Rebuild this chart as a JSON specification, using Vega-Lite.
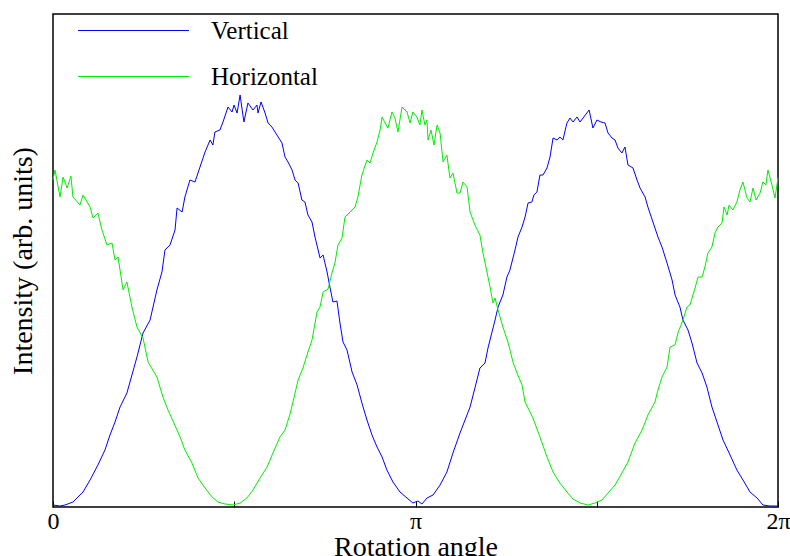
{
  "$schema": "https://vega.github.io/schema/vega-lite/v6.json",
  "width": 725,
  "height": 493,
  "autosize": "none",
  "padding": {"left": 53, "top": 14, "right": 12, "bottom": 49},
  "background": "white",
  "config": {
    "view": {"stroke": "black", "strokeWidth": 1.5},
    "font": "Liberation Serif"
  },
  "data": {
    "values": [
      {"series": "Vertical", "angle": 0, "intensity": 2},
      {"series": "Vertical", "angle": 3.5, "intensity": 1},
      {"series": "Vertical", "angle": 6.0, "intensity": 2},
      {"series": "Vertical", "angle": 9.9, "intensity": 5},
      {"series": "Vertical", "angle": 14.9, "intensity": 15},
      {"series": "Vertical", "angle": 18.4, "intensity": 27},
      {"series": "Vertical", "angle": 22.3, "intensity": 42},
      {"series": "Vertical", "angle": 25.8, "intensity": 57},
      {"series": "Vertical", "angle": 28.3, "intensity": 72},
      {"series": "Vertical", "angle": 30.8, "intensity": 85},
      {"series": "Vertical", "angle": 33.3, "intensity": 100},
      {"series": "Vertical", "angle": 36.7, "intensity": 114},
      {"series": "Vertical", "angle": 39.2, "intensity": 132},
      {"series": "Vertical", "angle": 41.7, "intensity": 150},
      {"series": "Vertical", "angle": 44.7, "intensity": 174},
      {"series": "Vertical", "angle": 48.2, "intensity": 187},
      {"series": "Vertical", "angle": 51.6, "intensity": 217},
      {"series": "Vertical", "angle": 54.1, "intensity": 235},
      {"series": "Vertical", "angle": 55.6, "intensity": 257},
      {"series": "Vertical", "angle": 58.1, "intensity": 262},
      {"series": "Vertical", "angle": 60.6, "intensity": 277},
      {"series": "Vertical", "angle": 61.6, "intensity": 299},
      {"series": "Vertical", "angle": 64.1, "intensity": 295},
      {"series": "Vertical", "angle": 65.5, "intensity": 310},
      {"series": "Vertical", "angle": 68.0, "intensity": 327},
      {"series": "Vertical", "angle": 70.5, "intensity": 325},
      {"series": "Vertical", "angle": 73.0, "intensity": 340},
      {"series": "Vertical", "angle": 75.5, "intensity": 355},
      {"series": "Vertical", "angle": 78.0, "intensity": 367},
      {"series": "Vertical", "angle": 79.4, "intensity": 362},
      {"series": "Vertical", "angle": 80.4, "intensity": 375},
      {"series": "Vertical", "angle": 82.9, "intensity": 377},
      {"series": "Vertical", "angle": 84.4, "intensity": 385},
      {"series": "Vertical", "angle": 86.9, "intensity": 400},
      {"series": "Vertical", "angle": 88.9, "intensity": 395},
      {"series": "Vertical", "angle": 89.9, "intensity": 402},
      {"series": "Vertical", "angle": 91.4, "intensity": 394},
      {"series": "Vertical", "angle": 92.9, "intensity": 412},
      {"series": "Vertical", "angle": 94.8, "intensity": 385},
      {"series": "Vertical", "angle": 96.8, "intensity": 404},
      {"series": "Vertical", "angle": 99.3, "intensity": 397},
      {"series": "Vertical", "angle": 101.3, "intensity": 402},
      {"series": "Vertical", "angle": 101.8, "intensity": 394},
      {"series": "Vertical", "angle": 103.3, "intensity": 405},
      {"series": "Vertical", "angle": 105.3, "intensity": 394},
      {"series": "Vertical", "angle": 106.8, "intensity": 384},
      {"series": "Vertical", "angle": 108.7, "intensity": 380},
      {"series": "Vertical", "angle": 111.2, "intensity": 372},
      {"series": "Vertical", "angle": 113.7, "intensity": 364},
      {"series": "Vertical", "angle": 115.2, "intensity": 350},
      {"series": "Vertical", "angle": 116.7, "intensity": 345},
      {"series": "Vertical", "angle": 118.7, "intensity": 337},
      {"series": "Vertical", "angle": 120.2, "intensity": 327},
      {"series": "Vertical", "angle": 121.7, "intensity": 324},
      {"series": "Vertical", "angle": 123.6, "intensity": 307},
      {"series": "Vertical", "angle": 125.1, "intensity": 305},
      {"series": "Vertical", "angle": 126.6, "intensity": 292},
      {"series": "Vertical", "angle": 128.6, "intensity": 285},
      {"series": "Vertical", "angle": 130.1, "intensity": 270},
      {"series": "Vertical", "angle": 132.6, "intensity": 249},
      {"series": "Vertical", "angle": 134.1, "intensity": 252},
      {"series": "Vertical", "angle": 136.1, "intensity": 235},
      {"series": "Vertical", "angle": 137.5, "intensity": 220},
      {"series": "Vertical", "angle": 139.0, "intensity": 205},
      {"series": "Vertical", "angle": 141.0, "intensity": 206},
      {"series": "Vertical", "angle": 142.5, "intensity": 184},
      {"series": "Vertical", "angle": 144.0, "intensity": 165},
      {"series": "Vertical", "angle": 146.0, "intensity": 157},
      {"series": "Vertical", "angle": 148.5, "intensity": 135},
      {"series": "Vertical", "angle": 151.0, "intensity": 122},
      {"series": "Vertical", "angle": 153.4, "intensity": 104},
      {"series": "Vertical", "angle": 155.9, "intensity": 87},
      {"series": "Vertical", "angle": 158.4, "intensity": 72},
      {"series": "Vertical", "angle": 160.9, "intensity": 60},
      {"series": "Vertical", "angle": 163.4, "intensity": 50},
      {"series": "Vertical", "angle": 165.8, "intensity": 37},
      {"series": "Vertical", "angle": 168.8, "intensity": 25},
      {"series": "Vertical", "angle": 172.3, "intensity": 15},
      {"series": "Vertical", "angle": 175.8, "intensity": 9},
      {"series": "Vertical", "angle": 178.7, "intensity": 4},
      {"series": "Vertical", "angle": 181.2, "intensity": 6},
      {"series": "Vertical", "angle": 183.2, "intensity": 3},
      {"series": "Vertical", "angle": 185.7, "intensity": 9},
      {"series": "Vertical", "angle": 188.7, "intensity": 12},
      {"series": "Vertical", "angle": 192.2, "intensity": 22},
      {"series": "Vertical", "angle": 195.6, "intensity": 35},
      {"series": "Vertical", "angle": 198.6, "intensity": 54},
      {"series": "Vertical", "angle": 202.1, "intensity": 74},
      {"series": "Vertical", "angle": 204.6, "intensity": 87},
      {"series": "Vertical", "angle": 207.1, "intensity": 100},
      {"series": "Vertical", "angle": 209.5, "intensity": 119},
      {"series": "Vertical", "angle": 212.0, "intensity": 139},
      {"series": "Vertical", "angle": 214.5, "intensity": 144},
      {"series": "Vertical", "angle": 216.0, "intensity": 159},
      {"series": "Vertical", "angle": 218.0, "intensity": 175},
      {"series": "Vertical", "angle": 219.5, "intensity": 187},
      {"series": "Vertical", "angle": 221.0, "intensity": 200},
      {"series": "Vertical", "angle": 223.4, "intensity": 212},
      {"series": "Vertical", "angle": 225.4, "intensity": 230},
      {"series": "Vertical", "angle": 226.9, "intensity": 237},
      {"series": "Vertical", "angle": 229.4, "intensity": 257},
      {"series": "Vertical", "angle": 230.9, "intensity": 270},
      {"series": "Vertical", "angle": 232.9, "intensity": 280},
      {"series": "Vertical", "angle": 234.4, "intensity": 290},
      {"series": "Vertical", "angle": 235.9, "intensity": 304},
      {"series": "Vertical", "angle": 237.8, "intensity": 305},
      {"series": "Vertical", "angle": 238.8, "intensity": 312},
      {"series": "Vertical", "angle": 240.3, "intensity": 315},
      {"series": "Vertical", "angle": 241.8, "intensity": 332},
      {"series": "Vertical", "angle": 243.3, "intensity": 332},
      {"series": "Vertical", "angle": 245.3, "intensity": 339},
      {"series": "Vertical", "angle": 246.8, "intensity": 350},
      {"series": "Vertical", "angle": 248.3, "intensity": 369},
      {"series": "Vertical", "angle": 250.3, "intensity": 367},
      {"series": "Vertical", "angle": 251.7, "intensity": 370},
      {"series": "Vertical", "angle": 253.2, "intensity": 367},
      {"series": "Vertical", "angle": 255.2, "intensity": 384},
      {"series": "Vertical", "angle": 256.7, "intensity": 389},
      {"series": "Vertical", "angle": 258.2, "intensity": 385},
      {"series": "Vertical", "angle": 260.2, "intensity": 390},
      {"series": "Vertical", "angle": 261.7, "intensity": 385},
      {"series": "Vertical", "angle": 263.2, "intensity": 389},
      {"series": "Vertical", "angle": 266.2, "intensity": 397},
      {"series": "Vertical", "angle": 268.1, "intensity": 379},
      {"series": "Vertical", "angle": 270.1, "intensity": 387},
      {"series": "Vertical", "angle": 272.1, "intensity": 385},
      {"series": "Vertical", "angle": 274.1, "intensity": 384},
      {"series": "Vertical", "angle": 275.6, "intensity": 374},
      {"series": "Vertical", "angle": 277.6, "intensity": 369},
      {"series": "Vertical", "angle": 279.1, "intensity": 367},
      {"series": "Vertical", "angle": 280.5, "intensity": 359},
      {"series": "Vertical", "angle": 282.5, "intensity": 354},
      {"series": "Vertical", "angle": 284.0, "intensity": 360},
      {"series": "Vertical", "angle": 285.5, "intensity": 342},
      {"series": "Vertical", "angle": 288.0, "intensity": 339},
      {"series": "Vertical", "angle": 290.0, "intensity": 327},
      {"series": "Vertical", "angle": 291.5, "intensity": 319},
      {"series": "Vertical", "angle": 294.0, "intensity": 310},
      {"series": "Vertical", "angle": 295.4, "intensity": 300},
      {"series": "Vertical", "angle": 297.9, "intensity": 285},
      {"series": "Vertical", "angle": 300.4, "intensity": 270},
      {"series": "Vertical", "angle": 302.4, "intensity": 260},
      {"series": "Vertical", "angle": 304.9, "intensity": 244},
      {"series": "Vertical", "angle": 307.4, "intensity": 227},
      {"series": "Vertical", "angle": 308.9, "intensity": 212},
      {"series": "Vertical", "angle": 311.3, "intensity": 200},
      {"series": "Vertical", "angle": 312.8, "intensity": 187},
      {"series": "Vertical", "angle": 315.3, "intensity": 177},
      {"series": "Vertical", "angle": 317.3, "intensity": 164},
      {"series": "Vertical", "angle": 319.8, "intensity": 144},
      {"series": "Vertical", "angle": 322.3, "intensity": 134},
      {"series": "Vertical", "angle": 324.7, "intensity": 120},
      {"series": "Vertical", "angle": 327.2, "intensity": 100},
      {"series": "Vertical", "angle": 329.7, "intensity": 85},
      {"series": "Vertical", "angle": 332.7, "intensity": 67},
      {"series": "Vertical", "angle": 336.2, "intensity": 52},
      {"series": "Vertical", "angle": 339.6, "intensity": 37},
      {"series": "Vertical", "angle": 342.6, "intensity": 27},
      {"series": "Vertical", "angle": 346.1, "intensity": 15},
      {"series": "Vertical", "angle": 349.6, "intensity": 9},
      {"series": "Vertical", "angle": 352.5, "intensity": 2},
      {"series": "Vertical", "angle": 356.0, "intensity": 1},
      {"series": "Vertical", "angle": 360, "intensity": 1},
      {"series": "Horizontal", "angle": 0, "intensity": 327},
      {"series": "Horizontal", "angle": 1.0, "intensity": 337},
      {"series": "Horizontal", "angle": 3.5, "intensity": 310},
      {"series": "Horizontal", "angle": 5.0, "intensity": 330},
      {"series": "Horizontal", "angle": 7.0, "intensity": 319},
      {"series": "Horizontal", "angle": 8.9, "intensity": 331},
      {"series": "Horizontal", "angle": 9.9, "intensity": 310},
      {"series": "Horizontal", "angle": 13.4, "intensity": 302},
      {"series": "Horizontal", "angle": 14.9, "intensity": 312},
      {"series": "Horizontal", "angle": 18.4, "intensity": 300},
      {"series": "Horizontal", "angle": 19.9, "intensity": 289},
      {"series": "Horizontal", "angle": 22.3, "intensity": 294},
      {"series": "Horizontal", "angle": 24.3, "intensity": 277},
      {"series": "Horizontal", "angle": 26.8, "intensity": 262},
      {"series": "Horizontal", "angle": 29.3, "intensity": 264},
      {"series": "Horizontal", "angle": 30.8, "intensity": 247},
      {"series": "Horizontal", "angle": 32.3, "intensity": 250},
      {"series": "Horizontal", "angle": 34.8, "intensity": 217},
      {"series": "Horizontal", "angle": 36.7, "intensity": 225},
      {"series": "Horizontal", "angle": 39.2, "intensity": 200},
      {"series": "Horizontal", "angle": 41.7, "intensity": 180},
      {"series": "Horizontal", "angle": 44.7, "intensity": 169},
      {"series": "Horizontal", "angle": 47.2, "intensity": 145},
      {"series": "Horizontal", "angle": 51.6, "intensity": 130},
      {"series": "Horizontal", "angle": 54.6, "intensity": 110},
      {"series": "Horizontal", "angle": 57.1, "intensity": 97},
      {"series": "Horizontal", "angle": 59.6, "intensity": 86},
      {"series": "Horizontal", "angle": 63.1, "intensity": 70},
      {"series": "Horizontal", "angle": 65.5, "intensity": 57},
      {"series": "Horizontal", "angle": 69.0, "intensity": 44},
      {"series": "Horizontal", "angle": 72.0, "intensity": 29},
      {"series": "Horizontal", "angle": 75.5, "intensity": 19},
      {"series": "Horizontal", "angle": 79.0, "intensity": 10},
      {"series": "Horizontal", "angle": 81.9, "intensity": 5},
      {"series": "Horizontal", "angle": 85.4, "intensity": 3},
      {"series": "Horizontal", "angle": 89.4, "intensity": 2},
      {"series": "Horizontal", "angle": 92.9, "intensity": 4},
      {"series": "Horizontal", "angle": 96.3, "intensity": 9},
      {"series": "Horizontal", "angle": 99.3, "intensity": 17},
      {"series": "Horizontal", "angle": 102.8, "intensity": 29},
      {"series": "Horizontal", "angle": 106.3, "intensity": 40},
      {"series": "Horizontal", "angle": 109.2, "intensity": 54},
      {"series": "Horizontal", "angle": 112.7, "intensity": 70},
      {"series": "Horizontal", "angle": 115.2, "intensity": 77},
      {"series": "Horizontal", "angle": 117.7, "intensity": 93},
      {"series": "Horizontal", "angle": 120.2, "intensity": 114},
      {"series": "Horizontal", "angle": 121.7, "intensity": 127},
      {"series": "Horizontal", "angle": 124.1, "intensity": 139},
      {"series": "Horizontal", "angle": 126.6, "intensity": 155},
      {"series": "Horizontal", "angle": 128.6, "intensity": 167},
      {"series": "Horizontal", "angle": 131.1, "intensity": 195},
      {"series": "Horizontal", "angle": 132.6, "intensity": 200},
      {"series": "Horizontal", "angle": 134.1, "intensity": 215},
      {"series": "Horizontal", "angle": 136.6, "intensity": 218},
      {"series": "Horizontal", "angle": 138.5, "intensity": 234},
      {"series": "Horizontal", "angle": 140.0, "intensity": 244},
      {"series": "Horizontal", "angle": 141.5, "intensity": 262},
      {"series": "Horizontal", "angle": 143.5, "intensity": 269},
      {"series": "Horizontal", "angle": 145.0, "intensity": 290},
      {"series": "Horizontal", "angle": 147.5, "intensity": 295},
      {"series": "Horizontal", "angle": 150.0, "intensity": 300},
      {"series": "Horizontal", "angle": 151.4, "intensity": 310},
      {"series": "Horizontal", "angle": 153.4, "intensity": 332},
      {"series": "Horizontal", "angle": 155.9, "intensity": 347},
      {"series": "Horizontal", "angle": 157.4, "intensity": 344},
      {"series": "Horizontal", "angle": 158.9, "intensity": 354},
      {"series": "Horizontal", "angle": 160.9, "intensity": 365},
      {"series": "Horizontal", "angle": 162.4, "intensity": 377},
      {"series": "Horizontal", "angle": 163.4, "intensity": 390},
      {"series": "Horizontal", "angle": 164.9, "intensity": 384},
      {"series": "Horizontal", "angle": 166.3, "intensity": 379},
      {"series": "Horizontal", "angle": 168.3, "intensity": 395},
      {"series": "Horizontal", "angle": 169.8, "intensity": 389},
      {"series": "Horizontal", "angle": 171.3, "intensity": 375},
      {"series": "Horizontal", "angle": 173.3, "intensity": 400},
      {"series": "Horizontal", "angle": 175.8, "intensity": 395},
      {"series": "Horizontal", "angle": 177.3, "intensity": 384},
      {"series": "Horizontal", "angle": 178.7, "intensity": 395},
      {"series": "Horizontal", "angle": 180.7, "intensity": 390},
      {"series": "Horizontal", "angle": 182.2, "intensity": 382},
      {"series": "Horizontal", "angle": 183.2, "intensity": 397},
      {"series": "Horizontal", "angle": 184.7, "intensity": 382},
      {"series": "Horizontal", "angle": 185.7, "intensity": 387},
      {"series": "Horizontal", "angle": 186.2, "intensity": 367},
      {"series": "Horizontal", "angle": 187.7, "intensity": 377},
      {"series": "Horizontal", "angle": 189.2, "intensity": 362},
      {"series": "Horizontal", "angle": 190.7, "intensity": 382},
      {"series": "Horizontal", "angle": 192.2, "intensity": 374},
      {"series": "Horizontal", "angle": 193.7, "intensity": 345},
      {"series": "Horizontal", "angle": 195.6, "intensity": 352},
      {"series": "Horizontal", "angle": 197.1, "intensity": 329},
      {"series": "Horizontal", "angle": 198.6, "intensity": 334},
      {"series": "Horizontal", "angle": 200.6, "intensity": 314},
      {"series": "Horizontal", "angle": 202.1, "intensity": 314},
      {"series": "Horizontal", "angle": 203.6, "intensity": 325},
      {"series": "Horizontal", "angle": 205.6, "intensity": 320},
      {"series": "Horizontal", "angle": 207.1, "intensity": 295},
      {"series": "Horizontal", "angle": 209.5, "intensity": 282},
      {"series": "Horizontal", "angle": 212.0, "intensity": 272},
      {"series": "Horizontal", "angle": 213.5, "intensity": 254},
      {"series": "Horizontal", "angle": 215.5, "intensity": 235},
      {"series": "Horizontal", "angle": 217.0, "intensity": 220},
      {"series": "Horizontal", "angle": 218.5, "intensity": 204},
      {"series": "Horizontal", "angle": 219.5, "intensity": 209},
      {"series": "Horizontal", "angle": 221.0, "intensity": 197},
      {"series": "Horizontal", "angle": 223.4, "intensity": 180},
      {"series": "Horizontal", "angle": 225.9, "intensity": 165},
      {"series": "Horizontal", "angle": 228.4, "intensity": 145},
      {"series": "Horizontal", "angle": 230.4, "intensity": 134},
      {"series": "Horizontal", "angle": 232.9, "intensity": 122},
      {"series": "Horizontal", "angle": 234.4, "intensity": 105},
      {"series": "Horizontal", "angle": 235.9, "intensity": 99},
      {"series": "Horizontal", "angle": 238.3, "intensity": 89},
      {"series": "Horizontal", "angle": 241.8, "intensity": 70},
      {"series": "Horizontal", "angle": 245.3, "intensity": 50},
      {"series": "Horizontal", "angle": 248.3, "intensity": 35},
      {"series": "Horizontal", "angle": 251.7, "intensity": 24},
      {"series": "Horizontal", "angle": 255.2, "intensity": 15},
      {"series": "Horizontal", "angle": 258.2, "intensity": 8},
      {"series": "Horizontal", "angle": 261.7, "intensity": 4},
      {"series": "Horizontal", "angle": 265.7, "intensity": 2},
      {"series": "Horizontal", "angle": 269.1, "intensity": 4},
      {"series": "Horizontal", "angle": 272.6, "intensity": 7},
      {"series": "Horizontal", "angle": 275.6, "intensity": 14},
      {"series": "Horizontal", "angle": 279.1, "intensity": 22},
      {"series": "Horizontal", "angle": 282.5, "intensity": 34},
      {"series": "Horizontal", "angle": 285.5, "intensity": 45},
      {"series": "Horizontal", "angle": 289.0, "intensity": 64},
      {"series": "Horizontal", "angle": 292.5, "intensity": 77},
      {"series": "Horizontal", "angle": 295.4, "intensity": 92},
      {"series": "Horizontal", "angle": 298.9, "intensity": 105},
      {"series": "Horizontal", "angle": 300.4, "intensity": 117},
      {"series": "Horizontal", "angle": 302.4, "intensity": 130},
      {"series": "Horizontal", "angle": 304.9, "intensity": 140},
      {"series": "Horizontal", "angle": 306.4, "intensity": 160},
      {"series": "Horizontal", "angle": 308.9, "intensity": 162},
      {"series": "Horizontal", "angle": 310.3, "intensity": 174},
      {"series": "Horizontal", "angle": 312.8, "intensity": 187},
      {"series": "Horizontal", "angle": 314.8, "intensity": 200},
      {"series": "Horizontal", "angle": 316.3, "intensity": 202},
      {"series": "Horizontal", "angle": 318.8, "intensity": 219},
      {"series": "Horizontal", "angle": 320.3, "intensity": 230},
      {"series": "Horizontal", "angle": 322.3, "intensity": 230},
      {"series": "Horizontal", "angle": 323.7, "intensity": 240},
      {"series": "Horizontal", "angle": 325.2, "intensity": 254},
      {"series": "Horizontal", "angle": 327.2, "intensity": 260},
      {"series": "Horizontal", "angle": 328.7, "intensity": 274},
      {"series": "Horizontal", "angle": 330.2, "intensity": 280},
      {"series": "Horizontal", "angle": 332.2, "intensity": 284},
      {"series": "Horizontal", "angle": 333.2, "intensity": 300},
      {"series": "Horizontal", "angle": 334.7, "intensity": 292},
      {"series": "Horizontal", "angle": 335.7, "intensity": 302},
      {"series": "Horizontal", "angle": 337.6, "intensity": 297},
      {"series": "Horizontal", "angle": 339.6, "intensity": 305},
      {"series": "Horizontal", "angle": 341.1, "intensity": 317},
      {"series": "Horizontal", "angle": 342.6, "intensity": 325},
      {"series": "Horizontal", "angle": 344.6, "intensity": 309},
      {"series": "Horizontal", "angle": 346.1, "intensity": 305},
      {"series": "Horizontal", "angle": 347.6, "intensity": 319},
      {"series": "Horizontal", "angle": 349.1, "intensity": 307},
      {"series": "Horizontal", "angle": 351.1, "intensity": 314},
      {"series": "Horizontal", "angle": 352.5, "intensity": 325},
      {"series": "Horizontal", "angle": 354.0, "intensity": 322},
      {"series": "Horizontal", "angle": 355.0, "intensity": 337},
      {"series": "Horizontal", "angle": 357.0, "intensity": 322},
      {"series": "Horizontal", "angle": 358.5, "intensity": 309},
      {"series": "Horizontal", "angle": 360.0, "intensity": 329}
    ]
  },
  "mark": {"type": "line", "strokeWidth": 1},
  "encoding": {
    "x": {
      "field": "angle",
      "type": "quantitative",
      "scale": {"domain": [0, 360], "nice": false, "zero": false},
      "axis": {
        "values": [0, 90, 180, 270, 360],
        "labelExpr": "datum.value == 0 ? '0' : datum.value == 180 ? 'π' : datum.value == 360 ? '2π' : ''",
        "grid": false,
        "domain": false,
        "tickSize": -6,
        "tickColor": "black",
        "tickWidth": 1,
        "labelFontSize": 24,
        "labelColor": "black",
        "labelFont": "Liberation Serif",
        "labelPadding": 8,
        "labelFlush": false,
        "labelBound": false,
        "labelOverlap": false,
        "title": "Rotation angle",
        "titleFont": "Liberation Serif",
        "titleFontSize": 28,
        "titleFontWeight": "normal",
        "titleColor": "black",
        "titlePadding": 0
      }
    },
    "y": {
      "field": "intensity",
      "type": "quantitative",
      "scale": {"domain": [0, 493], "nice": false},
      "axis": {
        "ticks": false,
        "labels": false,
        "domain": false,
        "grid": false,
        "title": "Intensity (arb. units)",
        "titleFont": "Liberation Serif",
        "titleFontSize": 28,
        "titleFontWeight": "normal",
        "titleColor": "black",
        "titlePadding": 16
      }
    },
    "color": {
      "field": "series",
      "type": "nominal",
      "scale": {"domain": ["Vertical", "Horizontal"], "range": ["#0000ff", "#00ee00"]},
      "legend": {
        "orient": "none",
        "legendX": 52,
        "legendY": -12,
        "title": null,
        "symbolType": "M-2,0H2",
        "symbolSize": 3080,
        "symbolStrokeWidth": 1,
        "labelFont": "Liberation Serif",
        "labelFontSize": 25,
        "labelColor": "black",
        "labelOffset": 49,
        "rowPadding": 4
      }
    }
  }
}
